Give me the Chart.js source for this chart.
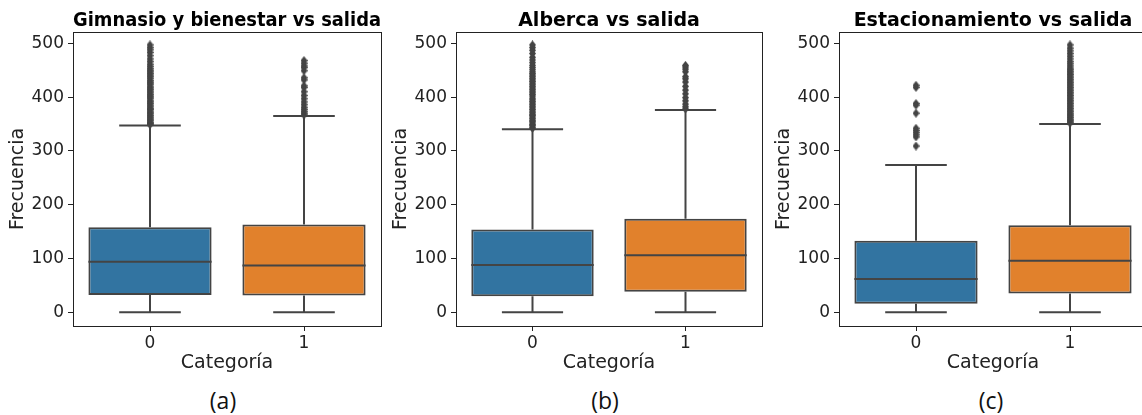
<!DOCTYPE html>
<html>
<head>
<meta charset="utf-8">
<script src="https://cdn.jsdelivr.net/npm/chart.js@4"></script>
<style>
  html, body { margin: 0; padding: 0; background: #fff; }
  #wrap { position: relative; width: 1142px; height: 415px; overflow: hidden; background: #fff; }
  canvas { position: absolute; top: 0; }
  .tag { position: absolute; top: 384px; width: 60px; text-align: center; font-family: "Open Sans", sans-serif; font-size: 23px; color: #111; }
</style>
</head>
<body>
<div id="wrap">
  <canvas id="chartA" width="386" height="374" style="left:0px"></canvas>
  <canvas id="chartB" width="384" height="374" style="left:383px"></canvas>
  <canvas id="chartC" width="386" height="374" style="left:766px"></canvas>
  <div class="tag" style="left:193px">(a)</div>
  <div class="tag" style="left:575px">(b)</div>
  <div class="tag" style="left:961px">(c)</div>
</div>
<script>
const categories = ['0', '1'];
const yTickValues = [0, 100, 200, 300, 400, 500];
const boxColors = ['#3274a1', '#e1812c'];

// (a) Gimnasio y bienestar
const gymQ1 = [32, 31];
const gymMedian = [94, 87];
const gymQ3 = [158, 163];
const gymLow = [0, 0];
const gymHigh = [347, 365];
const gymOut0 = [349, 351, 353, 356, 358, 361, 363, 366, 369, 371, 374, 377, 379, 382, 385, 388, 391, 393, 397, 400, 402, 405, 408, 411, 414, 417, 419, 423, 426, 428, 431, 435, 438, 441, 444, 447, 450, 453, 457, 461, 466, 471, 477, 483, 488, 492, 497];
const gymOut1 = [367, 370, 373, 377, 381, 386, 391, 397, 403, 410, 418, 421, 432, 436, 449, 455, 458, 463, 468];

// (b) Alberca
const poolQ1 = [30, 38];
const poolMedian = [88, 106];
const poolQ3 = [154, 174];
const poolLow = [0, 0];
const poolHigh = [340, 376];
const poolOut0 = [342, 344, 347, 349, 352, 355, 357, 360, 363, 366, 368, 371, 374, 377, 380, 383, 386, 389, 392, 395, 398, 402, 405, 408, 411, 414, 417, 420, 423, 426, 429, 432, 435, 438, 441, 444, 447, 451, 455, 459, 464, 469, 474, 481, 487, 492, 497];
const poolOut1 = [378, 382, 387, 393, 399, 406, 413, 420, 428, 434, 438, 447, 452, 456, 459];

// (c) Estacionamiento
const parkQ1 = [16, 35];
const parkMedian = [62, 96];
const parkQ3 = [133, 162];
const parkLow = [0, 0];
const parkHigh = [274, 350];
const parkOut0 = [309, 326, 330, 334, 338, 342, 370, 385, 388, 418, 422];
const parkOut1 = [352, 354, 357, 359, 362, 365, 367, 370, 373, 376, 379, 382, 385, 388, 391, 394, 397, 400, 403, 406, 409, 412, 415, 418, 421, 424, 427, 430, 433, 436, 439, 442, 445, 448, 451, 454, 458, 462, 466, 471, 476, 481, 486, 491, 497];

const lineColor = '#444';
const textColor = '#222';

// thin diamond marker like seaborn's fliers
const diamond = document.createElement('canvas');
diamond.width = 7; diamond.height = 9;
(function () {
  const c = diamond.getContext('2d');
  c.fillStyle = lineColor;
  c.beginPath();
  c.moveTo(3.5, 0); c.lineTo(7, 4.5); c.lineTo(3.5, 9); c.lineTo(0, 4.5);
  c.closePath();
  c.fill();
})();

const boxPlugin = {
  id: 'boxParts',
  afterDatasetsDraw(chart) {
    const st = chart.options.plugins.boxParts;
    const x = chart.scales.x, y = chart.scales.y;
    const ctx = chart.ctx;
    const step = x.getPixelForValue(1) - x.getPixelForValue(0);
    ctx.save();
    ctx.strokeStyle = lineColor;
    ctx.lineWidth = 2;
    categories.forEach((c, i) => {
      const cx = x.getPixelForValue(i);
      const half = step * 0.4;
      const cap = step * 0.2;
      ctx.beginPath();
      ctx.moveTo(cx, y.getPixelForValue(st.q3[i]));
      ctx.lineTo(cx, y.getPixelForValue(st.high[i]));
      ctx.moveTo(cx, y.getPixelForValue(st.q1[i]));
      ctx.lineTo(cx, y.getPixelForValue(st.low[i]));
      ctx.moveTo(cx - cap, y.getPixelForValue(st.high[i]));
      ctx.lineTo(cx + cap, y.getPixelForValue(st.high[i]));
      ctx.moveTo(cx - cap, y.getPixelForValue(st.low[i]));
      ctx.lineTo(cx + cap, y.getPixelForValue(st.low[i]));
      ctx.moveTo(cx - half, y.getPixelForValue(st.median[i]));
      ctx.lineTo(cx + half, y.getPixelForValue(st.median[i]));
      ctx.stroke();
    });
    const a = chart.chartArea;
    ctx.strokeStyle = textColor;
    ctx.lineWidth = 1;
    ctx.strokeRect(Math.round(a.left) + 0.5, Math.round(a.top) + 0.5, Math.round(a.right - a.left), Math.round(a.bottom - a.top));
    ctx.restore();
  }
};

function makeBoxChart(id, title, q1, median, q3, low, high, out0, out1) {
  const outliers = out0.map(v => ({ x: categories[0], y: v }))
    .concat(out1.map(v => ({ x: categories[1], y: v })));
  return new Chart(document.getElementById(id), {
    type: 'bar',
    data: {
      labels: categories,
      datasets: [
        {
          type: 'scatter',
          data: outliers,
          pointStyle: diamond,
          pointRadius: 3.5,
          order: 0
        },
        {
          data: categories.map((c, i) => [q1[i], q3[i]]),
          backgroundColor: boxColors,
          borderColor: lineColor,
          borderWidth: 2,
          borderSkipped: false,
          barPercentage: 0.8,
          categoryPercentage: 1.0,
          order: 1
        }
      ]
    },
    options: {
      responsive: false,
      animation: false,
      devicePixelRatio: 1,
      layout: { padding: { left: 7, right: 5, top: 0, bottom: 0 } },
      plugins: {
        legend: { display: false },
        tooltip: { enabled: false },
        title: {
          display: true,
          text: title,
          fullSize: false,
          color: '#000',
          font: { family: 'DejaVu Sans', size: 19, weight: 'bold' },
          padding: { top: 9.2, bottom: 0 }
        },
        boxParts: { q1, median, q3, low, high }
      },
      scales: {
        x: {
          offset: true,
          grid: { display: true, drawOnChartArea: false, drawTicks: true, tickLength: 5, color: textColor, offset: false },
          border: { display: false },
          ticks: { color: textColor, padding: 2, font: { family: 'DejaVu Sans', size: 17 } },
          title: { display: true, text: 'Categoría', color: textColor, padding: 0, font: { family: 'DejaVu Sans', size: 19 } },
          afterFit(scale) { scale.height = 48; }
        },
        y: {
          min: -25.5,
          max: 521,
          grid: { display: true, drawOnChartArea: false, drawTicks: true, tickLength: 5, color: textColor },
          border: { display: false },
          ticks: { color: textColor, padding: 4, font: { family: 'DejaVu Sans', size: 17 } },
          afterBuildTicks(scale) { scale.ticks = yTickValues.map(v => ({ value: v })); },
          title: { display: true, text: 'Frecuencia', color: textColor, padding: 0, font: { family: 'DejaVu Sans', size: 19 } },
          afterFit(scale) { scale.width = 66; }
        }
      }
    },
    plugins: [boxPlugin]
  });
}

makeBoxChart('chartA', 'Gimnasio y bienestar vs salida', gymQ1, gymMedian, gymQ3, gymLow, gymHigh, gymOut0, gymOut1);
makeBoxChart('chartB', 'Alberca vs salida', poolQ1, poolMedian, poolQ3, poolLow, poolHigh, poolOut0, poolOut1);
makeBoxChart('chartC', 'Estacionamiento vs salida', parkQ1, parkMedian, parkQ3, parkLow, parkHigh, parkOut0, parkOut1);
</script>
</body>
</html>
